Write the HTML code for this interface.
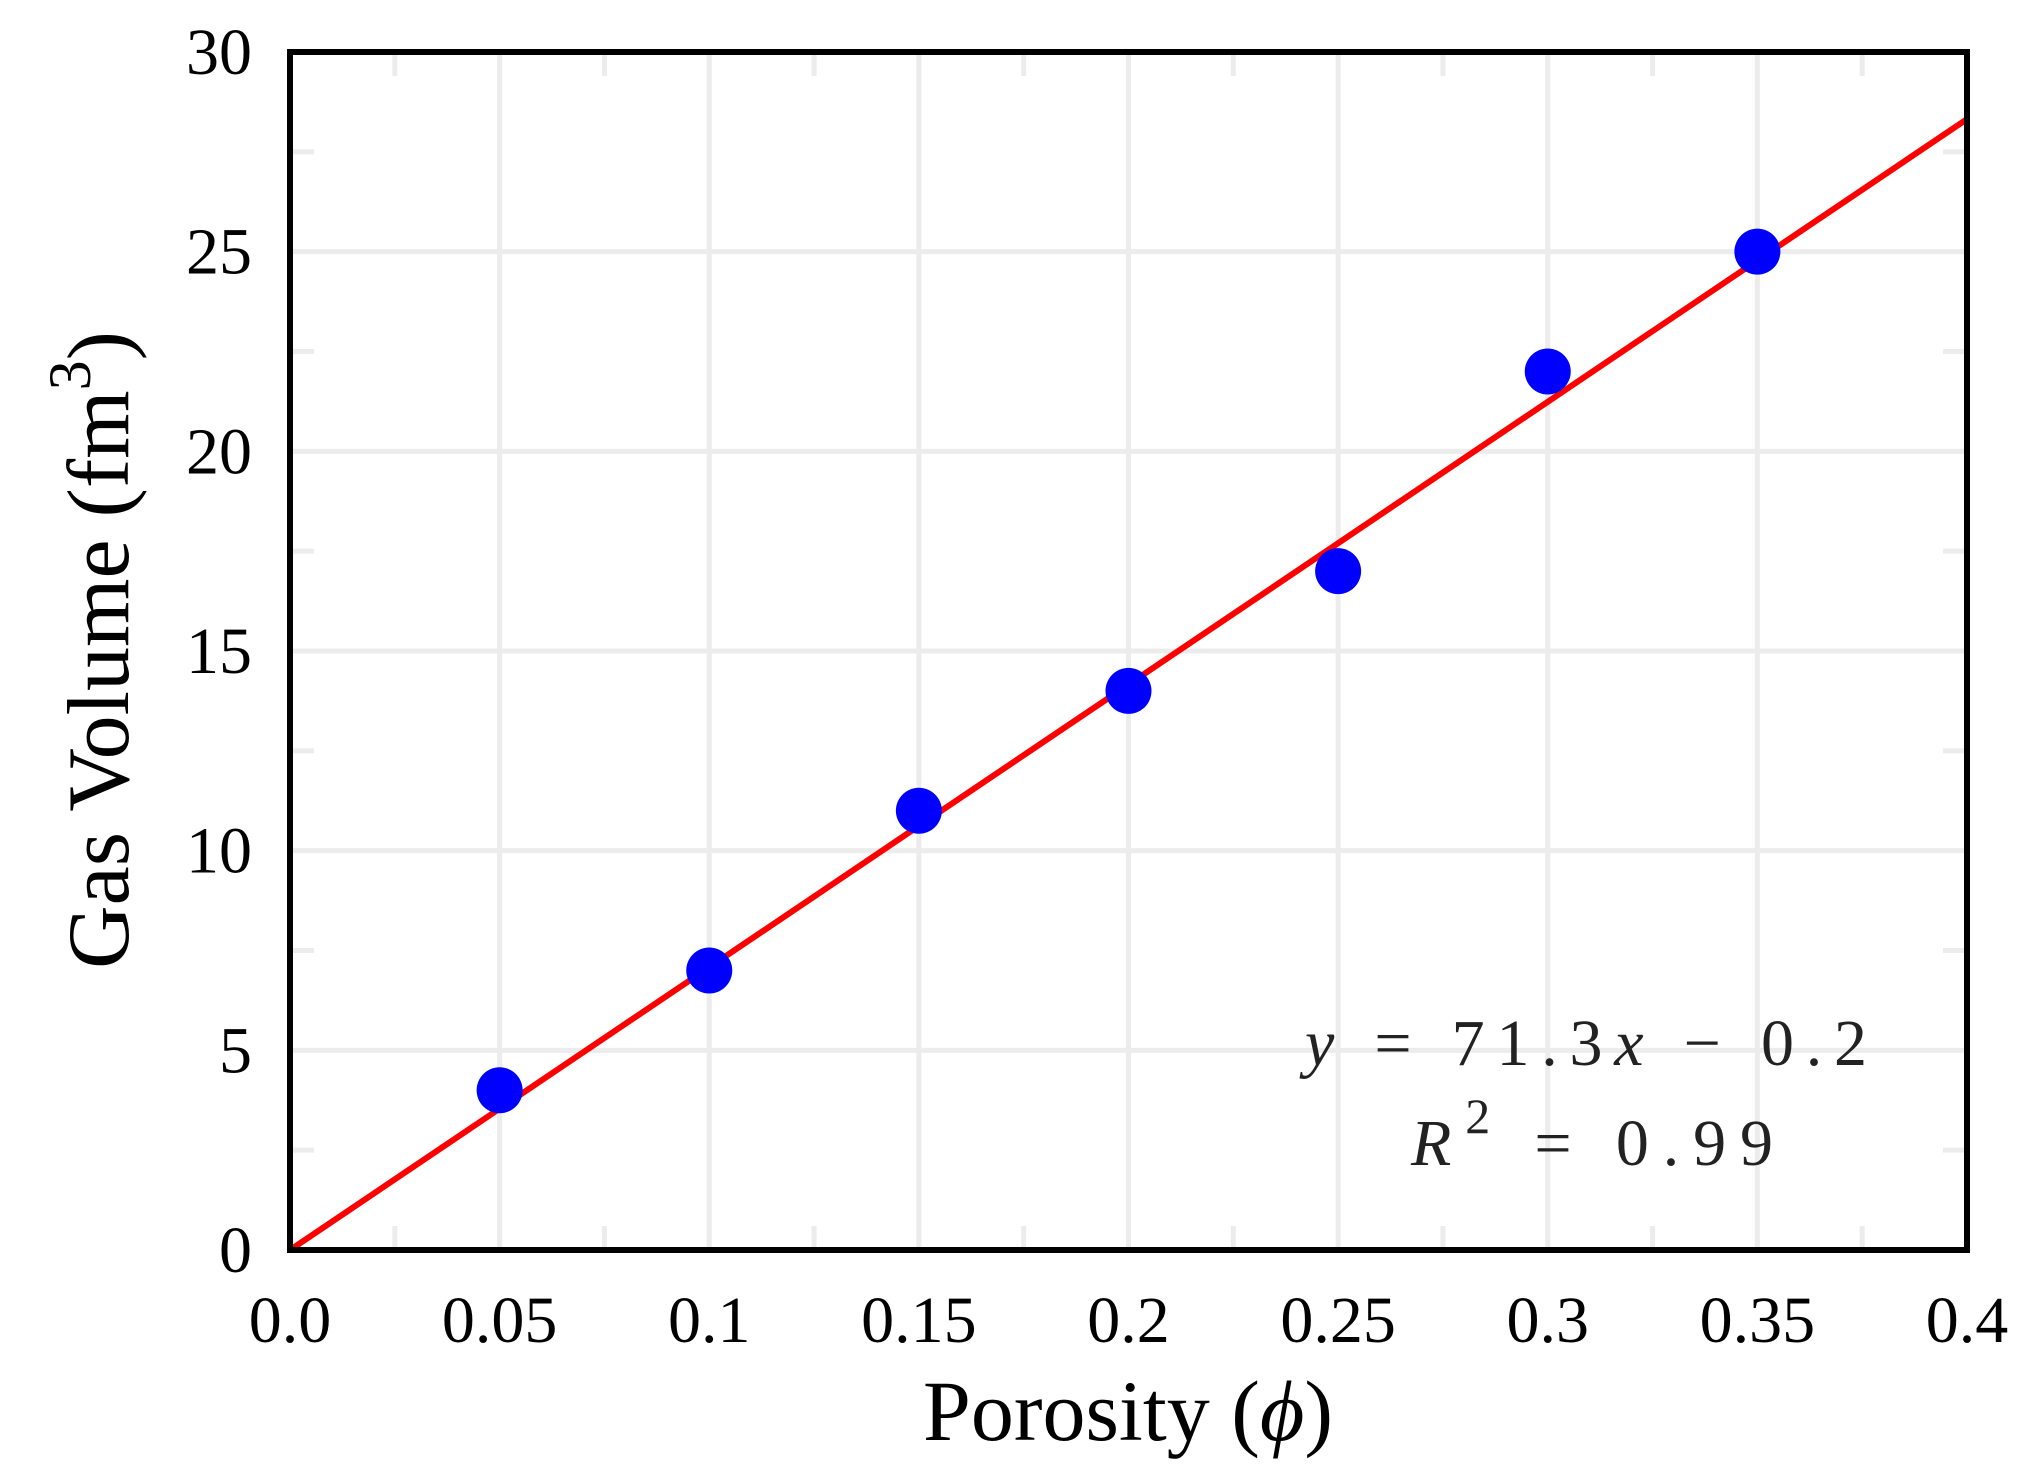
<!DOCTYPE html>
<html><head><meta charset="utf-8"><style>
html,body{margin:0;padding:0;background:#fff;}
svg{display:block;font-family:"Liberation Serif",serif;}
</style></head><body>
<svg id="chart" width="2019" height="1479" viewBox="0 0 2019 1479" xmlns="http://www.w3.org/2000/svg">
<g id="grid"></g>
<g id="fit"></g>
<g id="points"></g>
<rect x="290" y="52" width="1677" height="1198" fill="none" stroke="#000" stroke-width="6"/>
<g id="ticks"></g>
<text x="1128" y="1440" font-size="86" text-anchor="middle">Porosity (<tspan font-style="italic">ϕ</tspan>)</text>
<text transform="translate(128,650) rotate(-90)" font-size="88" text-anchor="middle">Gas Volume (fm<tspan dy="-38" font-size="60">3</tspan><tspan dy="38">)</tspan></text>
<text x="1305" y="1065" font-size="66" textLength="562" lengthAdjust="spacing" fill="#222"><tspan font-style="italic">y</tspan> = 71.3<tspan font-style="italic">x</tspan> − 0.2</text>
<text x="1411" y="1165" font-size="66" textLength="362" lengthAdjust="spacing" fill="#222"><tspan font-style="italic">R</tspan><tspan dy="-32" font-size="50">2</tspan><tspan dy="32"> = 0.99</tspan></text>
</svg>
<script>
const xs = [0.05,0.1,0.15,0.2,0.25,0.3,0.35];
const ys = [4,7,11,14,17,22,25];
const xTicks = [0,0.05,0.1,0.15,0.2,0.25,0.3,0.35,0.4];
const xTickLabels = ["0.0","0.05","0.1","0.15","0.2","0.25","0.3","0.35","0.4"];
const yTicks = [0,5,10,15,20,25,30];
const fitSlope = 71.3, fitIntercept = -0.2;
const L=290,R=1967,T=52,B=1250;
const X=v=>L+(v/0.4)*(R-L);
const Y=v=>B-(v/30)*(B-T);
const NS="http://www.w3.org/2000/svg";
function mk(tag,attrs,parent){const e=document.createElementNS(NS,tag);for(const k in attrs)e.setAttribute(k,attrs[k]);document.getElementById(parent).appendChild(e);return e;}
xTicks.forEach((t,i)=>{
  if(t>0&&t<0.4){const g=mk('line',{x1:X(t),x2:X(t),y1:T,y2:B,stroke:'#ececec','stroke-width':5},'grid');
  
  }
  if(i<xTicks.length-1){const m=X(t+0.025);
    [[B-24,B],[T,T+24]].forEach(p=>{const s=mk('line',{x1:m,x2:m,y1:p[0],y2:p[1],stroke:'#ececec','stroke-width':5},'grid');
    
    });}
  const tx=mk('text',{x:X(t),y:1342,'font-size':66,'text-anchor':'middle'},'ticks');
  tx.textContent=xTickLabels[i];
  
  
});
yTicks.forEach((t,i)=>{
  if(t>0&&t<30){const g=mk('line',{x1:L,x2:R,y1:Y(t),y2:Y(t),stroke:'#ececec','stroke-width':5},'grid');
  
  }
  if(i<yTicks.length-1){const m=Y(t+2.5);
    [[L,L+24],[R-24,R]].forEach(p=>{const s=mk('line',{x1:p[0],x2:p[1],y1:m,y2:m,stroke:'#ececec','stroke-width':5},'grid');
    
    });}
  const tx=mk('text',{x:252,y:Y(t)+22,'font-size':66,'text-anchor':'end'},'ticks');
  tx.textContent=String(t);
  
  
});
const ln=mk('line',{x1:X(0),y1:Y(Math.max(0,fitIntercept)),x2:X(0.4),y2:Y(fitSlope*0.4+fitIntercept),stroke:'#ff0000','stroke-width':6},'fit');


xs.forEach((x,i)=>{
  const c=mk('circle',{cx:X(x),cy:Y(ys[i]),r:23,fill:'#0000ff'},'points');
  
  
});
</script>
</body></html>
